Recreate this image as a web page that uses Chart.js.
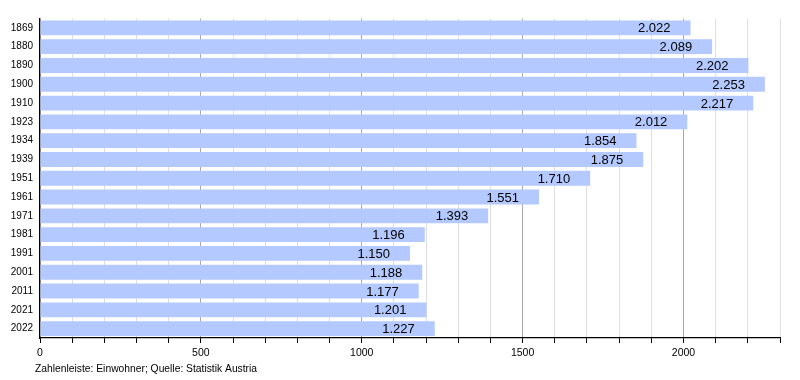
<!DOCTYPE html>
<html>
<head>
<meta charset="utf-8">
<script src="https://cdn.jsdelivr.net/npm/chart.js@4/dist/chart.umd.min.js"></script>
<style>
  html, body { margin: 0; padding: 0; background: #fff; }
  #wrap { width: 800px; height: 380px; }
</style>
</head>
<body>
<div id="wrap"><canvas id="chart" width="800" height="380"></canvas></div>
<script>
// ── Data ───────────────────────────────────────────────────────────────
const years = ['1869', '1880', '1890', '1900', '1910', '1923', '1934', '1939', '1951',
               '1961', '1971', '1981', '1991', '2001', '2011', '2021', '2022'];
const population = [2022, 2089, 2202, 2253, 2217, 2012, 1854, 1875, 1710,
                    1551, 1393, 1196, 1150, 1188, 1177, 1201, 1227];
const footnote = 'Zahlenleiste: Einwohner; Quelle: Statistik Austria';

const font = "'Liberation Sans', Arial, sans-serif";

// German style thousands separator: 2022 -> "2.022"
const fmt = v => Number(v).toLocaleString('de-DE');

// Value labels right-aligned inside the bar ends, plus the source line
const valueLabels = {
    id: 'valueLabels',
    afterDatasetsDraw(chart) {
        const ctx = chart.ctx;
        const meta = chart.getDatasetMeta(0);
        ctx.save();
        ctx.font = '13px ' + font;
        ctx.fillStyle = '#000';
        ctx.textAlign = 'right';
        ctx.textBaseline = 'middle';
        meta.data.forEach((bar, i) => {
            ctx.fillText(fmt(population[i]), bar.x - 20, bar.y + 1);
        });
        ctx.font = '10.3px ' + font;
        ctx.textAlign = 'left';
        ctx.fillText(footnote, 35, 369);
        ctx.restore();
    }
};

new Chart(document.getElementById('chart'), {
    type: 'bar',
    data: {
        labels: years,
        datasets: [{
            data: population,
            backgroundColor: '#b3c9ff',
            borderWidth: 0,
            categoryPercentage: 1,
            barPercentage: 0.79
        }]
    },
    options: {
        indexAxis: 'y',
        responsive: false,
        animation: false,
        layout: { padding: { left: 0, right: 20, top: 18.5, bottom: 20 } },
        plugins: { legend: { display: false }, tooltip: { enabled: false } },
        scales: {
            x: {
                min: 0, max: 2300,
                grid: {
                    color: c => (c.tick && c.tick.value % 500 === 0) ? '#a8a8a8' : '#dedede',
                    lineWidth: 1,
                    tickColor: '#000',
                    tickLength: 5
                },
                border: { color: '#000', width: 1.2 },
                ticks: {
                    stepSize: 100,
                    autoSkip: false,
                    maxRotation: 0,
                    padding: 4,
                    color: '#000',
                    font: { family: font, size: 10.5 },
                    callback: v => v % 500 === 0 ? String(v) : ''
                },
                afterFit: s => { s.height = 22; }
            },
            y: {
                grid: { display: false, drawTicks: false },
                border: { color: '#000', width: 1.2 },
                ticks: {
                    padding: 7,
                    color: '#000',
                    font: { family: font, size: 10 }
                },
                afterFit: s => { s.width = 40; }
            }
        }
    },
    plugins: [valueLabels]
});
</script>
</body>
</html>
